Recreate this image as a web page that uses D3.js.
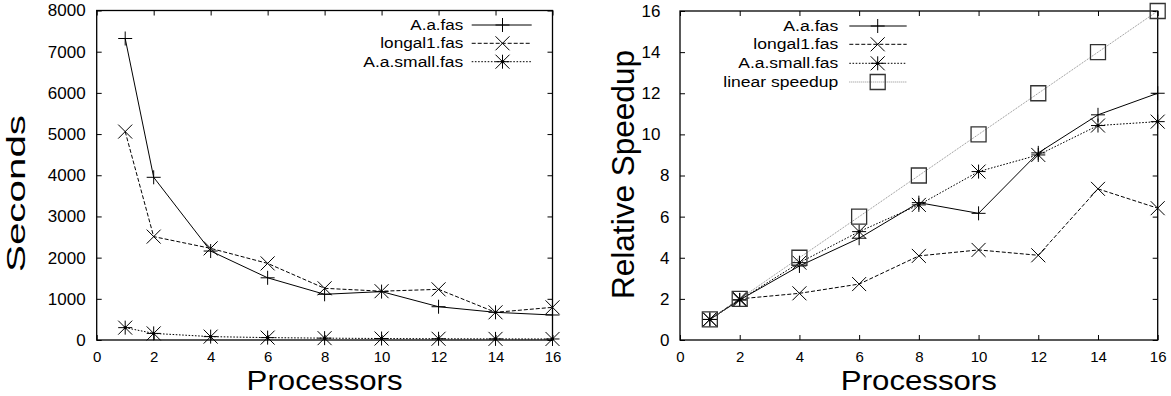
<!DOCTYPE html>
<html>
<head>
<meta charset="utf-8">
<script src="https://cdn.jsdelivr.net/npm/d3@7"></script>
<style>
  html, body { margin: 0; padding: 0; background: #fff; }
  svg { display: block; font-family: "Liberation Sans", Arial, Helvetica, sans-serif; }
</style>
</head>
<body>
<svg id="chart" width="1171" height="396"></svg>
<script>
// ---------------- data ----------------
const processors = [1, 2, 4, 6, 8, 10, 12, 14, 16];

const secondsAafas      = [7320, 3950, 2160, 1510, 1110, 1175, 808, 672, 607];
const secondsLongal1    = [5060, 2510, 2225, 1860, 1255, 1185, 1230, 672, 793];
const secondsAasmall    = [300, 160, 82, 58, 45, 36, 30, 27, 25];

const speedupAafas      = [1, 1.95, 3.6, 4.95, 6.68, 6.16, 9.1, 10.95, 12.0];
const speedupLongal1    = [1, 2.0, 2.27, 2.72, 4.09, 4.38, 4.12, 7.35, 6.41];
const speedupAasmall    = [1, 1.95, 3.76, 5.27, 6.57, 8.19, 9.0, 10.43, 10.62];
const speedupLinear     = [1, 2, 4, 6, 8, 10, 12, 14, 16];

const xTicks = [0, 2, 4, 6, 8, 10, 12, 14, 16];
const leftYTicks = [0, 1000, 2000, 3000, 4000, 5000, 6000, 7000, 8000];
const rightYTicks = [0, 2, 4, 6, 8, 10, 12, 14, 16];

const leftSeriesNames = ["A.a.fas", "longal1.fas", "A.a.small.fas"];
const rightSeriesNames = ["A.a.fas", "longal1.fas", "A.a.small.fas", "linear speedup"];

// ---------------- drawing ----------------
const svg = d3.select("#chart");

const markerPath = {
  plus: (x, y, r) => `M${x - r},${y}H${x + r}M${x},${y - r}V${y + r}`,
  times: (x, y, r) => `M${x - r},${y - r}L${x + r},${y + r}M${x - r},${y + r}L${x + r},${y - r}`,
  star: (x, y, r) => `M${x - r},${y}H${x + r}M${x},${y - r}V${y + r}M${x - r},${y - r}L${x + r},${y + r}M${x - r},${y + r}L${x + r},${y - r}`,
  square: (x, y, r) => `M${x - r},${y - r}H${x + r}V${y + r}H${x - r}Z`
};

const styles = [
  { dash: null, color: "#000", marker: "plus", r: 7, mColor: "#000", width: 1 },
  { dash: "4,2", color: "#000", marker: "times", r: 7, mColor: "#000", width: 1 },
  { dash: "1.6,1.6", color: "#000", marker: "star", r: 7, mColor: "#000", width: 1 },
  { dash: "1,1", color: "#8a8a8a", marker: "square", r: 7.5, mColor: "#333", width: 1 }
];

function drawPanel(cfg) {
  const x = d3.scaleLinear().domain([0, 16]).range([cfg.x0, cfg.x1]);
  const y = d3.scaleLinear().domain(cfg.yDomain).range([cfg.y0, cfg.y1]);
  const g = svg.append("g");

  // axes (ticks inward, mirrored)
  const axB = g.append("g").attr("transform", `translate(0,${cfg.y0})`)
    .call(d3.axisBottom(x).tickValues(xTicks).tickSize(-5).tickPadding(11).tickFormat(d3.format("d")));
  const axT = g.append("g").attr("transform", `translate(0,${cfg.y1})`)
    .call(d3.axisTop(x).tickValues(xTicks).tickSize(-5).tickFormat(""));
  const axL = g.append("g").attr("transform", `translate(${cfg.x0},0)`)
    .call(d3.axisLeft(y).tickValues(cfg.yTicks).tickSize(-5).tickPadding(cfg.yPad).tickFormat(d3.format("d")));
  const axR = g.append("g").attr("transform", `translate(${cfg.x1},0)`)
    .call(d3.axisRight(y).tickValues(cfg.yTicks).tickSize(-5).tickFormat(""));
  [axB, axT, axL, axR].forEach(a => {
    a.select(".domain").remove();
    a.selectAll(".tick line").attr("stroke", "#000").attr("stroke-width", 1);
  });
  axB.selectAll("text").attr("font-size", 15).attr("fill", "#000")
    .attr("font-family", "Liberation Sans, Arial, sans-serif");
  axL.selectAll("text").attr("font-size", 17).attr("fill", "#000")
    .attr("font-family", "Liberation Sans, Arial, sans-serif");
  if (cfg.twoDigitShift) {
    axL.selectAll(".tick text").filter(d => d >= 10).attr("dx", cfg.twoDigitShift);
  }

  // frame
  g.append("rect")
    .attr("x", cfg.x0).attr("y", cfg.y1)
    .attr("width", cfg.x1 - cfg.x0).attr("height", cfg.y0 - cfg.y1)
    .attr("fill", "none").attr("stroke", "#000").attr("stroke-width", 1.3);

  // series
  const line = d3.line().x((d, i) => x(processors[i])).y(d => y(d));
  cfg.series.forEach((vals, si) => {
    const st = styles[si];
    g.append("path").datum(vals)
      .attr("d", line)
      .attr("fill", "none")
      .attr("stroke", st.color)
      .attr("stroke-width", st.width)
      .attr("stroke-dasharray", st.dash);
  });
  cfg.series.forEach((vals, si) => {
    const st = styles[si];
    g.append("g").selectAll("path").data(vals).join("path")
      .attr("d", (d, i) => markerPath[st.marker](x(processors[i]), y(d), st.r))
      .attr("fill", "none")
      .attr("stroke", st.mColor)
      .attr("stroke-width", st.marker === "square" ? 1.3 : 1);
    if (st.marker === "star") {
      g.append("g").selectAll("circle").data(vals).join("circle")
        .attr("cx", (d, i) => x(processors[i])).attr("cy", d => y(d))
        .attr("r", 1.6).attr("fill", "#000");
    }
  });

  // legend
  cfg.names.forEach((name, si) => {
    const st = styles[si];
    const ly = cfg.legendRows[si];
    g.append("text")
      .attr("x", cfg.legendTextEnd).attr("y", ly).attr("dy", "0.36em")
      .attr("text-anchor", "end")
      .attr("font-size", 14)
      .attr("textLength", cfg.legendWidths[si])
      .attr("lengthAdjust", "spacingAndGlyphs")
      .attr("fill", "#000")
      .text(name);
    g.append("path")
      .attr("d", `M${cfg.legendLine[0]},${ly}H${cfg.legendLine[1]}`)
      .attr("stroke", st.color).attr("stroke-width", st.width)
      .attr("stroke-dasharray", st.dash).attr("fill", "none");
    g.append("path")
      .attr("d", markerPath[st.marker](cfg.legendMarker, ly, st.r))
      .attr("fill", "none").attr("stroke", st.mColor)
      .attr("stroke-width", st.marker === "square" ? 1.3 : 1);
    if (st.marker === "star") {
      g.append("circle").attr("cx", cfg.legendMarker).attr("cy", ly).attr("r", 1.6).attr("fill", "#000");
    }
  });

  // axis titles
  g.append("text")
    .attr("x", (cfg.x0 + cfg.x1) / 2).attr("y", 390)
    .attr("text-anchor", "middle")
    .attr("font-size", 27)
    .attr("textLength", 156).attr("lengthAdjust", "spacingAndGlyphs")
    .attr("fill", "#000")
    .text("Processors");
  g.append("text")
    .attr("transform", `translate(${cfg.yTitleX},${cfg.yTitleY}) rotate(-90)`)
    .attr("text-anchor", "middle")
    .attr("font-size", cfg.yTitleSize)
    .attr("textLength", cfg.yTitleLen).attr("lengthAdjust", "spacingAndGlyphs")
    .attr("fill", "#000")
    .text(cfg.yTitle);
}

drawPanel({
  x0: 96.7, x1: 552.5, y0: 340, y1: 10.5,
  yDomain: [0, 8000], yTicks: leftYTicks, yPad: 11,
  series: [secondsAafas, secondsLongal1, secondsAasmall],
  names: leftSeriesNames,
  legendRows: [25, 43.3, 61.7],
  legendWidths: [53, 83, 100],
  legendTextEnd: 463.3,
  legendLine: [471.7, 531.7],
  legendMarker: 502.5,
  yTitle: "Seconds", yTitleX: 25, yTitleY: 193.5, yTitleSize: 25, yTitleLen: 157
});

drawPanel({
  x0: 680, x1: 1157.7, y0: 340, y1: 11,
  yDomain: [0, 16], yTicks: rightYTicks, yPad: 10.5, twoDigitShift: -9,
  series: [speedupAafas, speedupLongal1, speedupAasmall, speedupLinear],
  names: rightSeriesNames,
  legendRows: [26, 44.3, 63.3, 82],
  legendWidths: [55, 85, 100, 115],
  legendTextEnd: 838.3,
  legendLine: [849.3, 906.7],
  legendMarker: 877.7,
  yTitle: "Relative Speedup", yTitleX: 634, yTitleY: 174.5, yTitleSize: 31, yTitleLen: 249
});
</script>
</body>
</html>
